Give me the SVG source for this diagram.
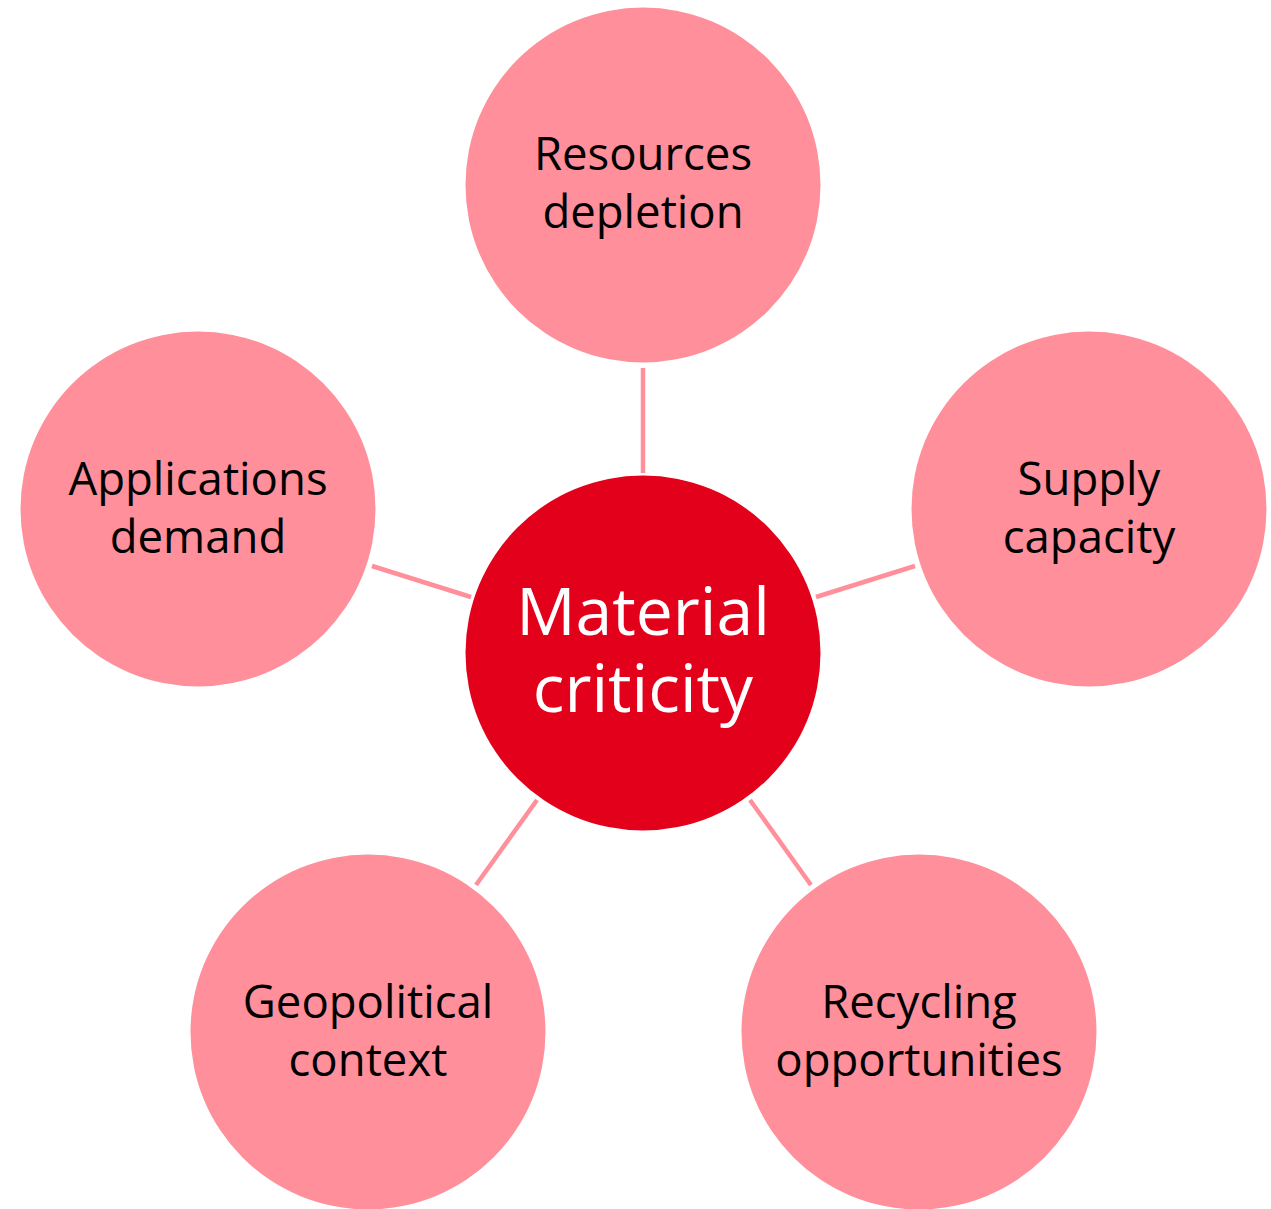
<svg xmlns="http://www.w3.org/2000/svg" width="1271" height="1209" viewBox="0 0 1271 1209">
<style>
.outer{fill:#FF8F9A}
.center{fill:#E3001B}
.conn line{stroke:#FF8F9A;stroke-width:4.5;fill:none}
.lbl{font-family:"Open Sans","Liberation Sans",Arial,sans-serif;font-size:45.5px;fill:#000;text-anchor:middle}
.clbl{font-family:"Open Sans","Liberation Sans",Arial,sans-serif;font-size:66px;fill:#fff;text-anchor:middle}
</style>
<rect width="1271" height="1209" fill="#fff"/>
<g id="connectors" class="conn">
<line x1="643" y1="368" x2="643" y2="473"/>
<line x1="372" y1="566" x2="471" y2="597"/>
<line x1="915" y1="566" x2="816" y2="597"/>
<line x1="537" y1="800" x2="476" y2="885"/>
<line x1="750" y1="800" x2="811" y2="885"/>
</g>
<g id="center-node">
<circle class="center" cx="643" cy="653" r="177.5"/>
<text class="clbl" x="643" y="635">Material</text>
<text class="clbl" x="643" y="712">criticity</text>
</g>
<g id="resources-depletion">
<circle class="outer" cx="643" cy="185" r="177.5"/>
<text class="lbl" x="643" y="170">Resources</text>
<text class="lbl" x="643" y="228">depletion</text>
</g>
<g id="applications-demand">
<circle class="outer" cx="198" cy="509" r="177.5"/>
<text class="lbl" x="198" y="495">Applications</text>
<text class="lbl" x="198" y="553">demand</text>
</g>
<g id="supply-capacity">
<circle class="outer" cx="1089" cy="509" r="177.5"/>
<text class="lbl" x="1089" y="495">Supply</text>
<text class="lbl" x="1089" y="553">capacity</text>
</g>
<g id="geopolitical-context">
<circle class="outer" cx="368" cy="1032" r="177.5"/>
<text class="lbl" x="368" y="1018">Geopolitical</text>
<text class="lbl" x="368" y="1076">context</text>
</g>
<g id="recycling-opportunities">
<circle class="outer" cx="919" cy="1032" r="177.5"/>
<text class="lbl" x="919" y="1018">Recycling</text>
<text class="lbl" x="919" y="1076">opportunities</text>
</g>
</svg>
